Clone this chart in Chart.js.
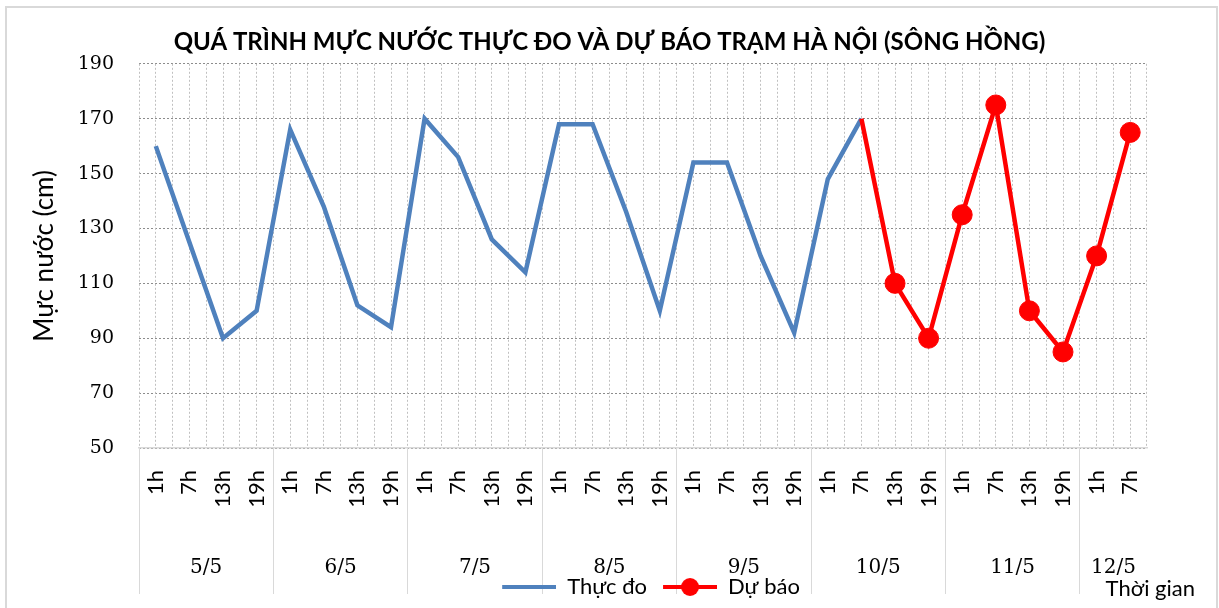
<!DOCTYPE html>
<html>
<head>
<meta charset="utf-8">
<script src="https://cdn.jsdelivr.net/npm/chart.js@4"></script>
<style>
  body { margin: 0; background: #fff; }
  .wrap { position: relative; width: 1219px; height: 608px; overflow: hidden; }
  .frame { position: absolute; left: 5px; top: 6px; width: 1209px; height: 620px; border: 2px solid #d9d9d9; pointer-events: none; }
</style>
</head>
<body>
<div class="wrap">
  <canvas id="chart" width="1219" height="608"></canvas>
  <div class="frame"></div>
</div>
<script>
const days = ["5/5", "6/5", "7/5", "8/5", "9/5", "10/5", "11/5", "12/5"];
const hoursPerDay = [4, 4, 4, 4, 4, 4, 4, 2];
const hourLabels = ["1h", "7h", "13h", "19h"];

// muc nuoc thuc do (cm), 5/5 1h -> 10/5 7h
const observed = [160, 125, 90, 100, 166, 138, 102, 94, 170, 156, 126, 114,
  168, 168, 136, 100, 154, 154, 120, 92, 148, 170];
// du bao (cm), 10/5 13h -> 12/5 7h
const forecast = [110, 90, 135, 175, 100, 85, 120, 165];

const yTicks = [50, 70, 90, 110, 130, 150, 170, 190];

// build category labels + day positions
const labels = [];
const dayStarts = [];
const dayCenters = [];
days.forEach((d, i) => {
  dayStarts.push(labels.length);
  dayCenters.push(labels.length + (hoursPerDay[i] - 1) / 2);
  hourLabels.slice(0, hoursPerDay[i]).forEach((h) => labels.push(h));
});
dayStarts.push(labels.length);

const joint = observed.length - 1;
const forecastData = labels.map((_, i) => {
  if (i < joint) return null;
  if (i === joint) return observed[joint];
  return forecast[i - joint - 1];
});

// legend symbol: 16px blank gap on the left, then line (+ dot)
function legendIcon(color, dot) {
  const c = document.createElement("canvas");
  c.width = 70;
  c.height = 22;
  const g = c.getContext("2d");
  g.strokeStyle = color;
  g.lineWidth = 4;
  g.beginPath();
  g.moveTo(16, 11);
  g.lineTo(70, 11);
  g.stroke();
  if (dot) {
    g.fillStyle = color;
    g.beginPath();
    g.arc(43, 11, 9, 0, Math.PI * 2);
    g.fill();
  }
  return c;
}
const icons = [legendIcon("#4f81bd", false), legendIcon("#ff0000", true)];

const dotted = [2, 2];

new Chart(document.getElementById("chart"), {
  type: "line",
  data: {
    labels: labels,
    datasets: [
      {
        label: "Thực đo",
        data: observed,
        borderColor: "#4f81bd",
        backgroundColor: "#4f81bd",
        borderWidth: 4.5,
        pointRadius: 0,
        tension: 0,
        order: 1,
      },
      {
        label: "Dự báo",
        data: forecastData,
        borderColor: "#ff0000",
        backgroundColor: "#ff0000",
        borderWidth: 4.5,
        pointRadius: (ctx) => (ctx.dataIndex === joint ? 0 : 10),
        pointBorderWidth: 1,
        tension: 0,
        order: 0,
      },
    ],
  },
  options: {
    responsive: false,
    animation: false,
    layout: { padding: { left: 24, right: 24, top: 24, bottom: 0 } },
    plugins: {
      title: {
        display: true,
        text: "QUÁ TRÌNH MỰC NƯỚC THỰC ĐO VÀ DỰ BÁO TRẠM HÀ NỘI (SÔNG HỒNG)",
        color: "#000",
        font: { family: "Lato", size: 24, weight: "bold", lineHeight: 1.2 },
        padding: { top: 4, bottom: 7 },
      },
      subtitle: {
        display: true,
        position: "bottom",
        align: "end",
        text: "Thời gian",
        color: "#000",
        font: { family: "Lato", size: 22, lineHeight: 1 },
        padding: { top: -30, bottom: 5 },
      },
      legend: {
        position: "bottom",
        fullSize: false,
        labels: {
          usePointStyle: true,
          pointStyleWidth: 70,
          padding: 0,
          color: "#000",
          font: { family: "Lato", size: 22 },
          generateLabels: (chart) =>
            chart.data.datasets.map((ds, i) => ({
              text: ds.label,
              pointStyle: icons[i],
              fillStyle: ds.borderColor,
              strokeStyle: ds.borderColor,
              lineWidth: 0,
              hidden: false,
              datasetIndex: i,
              fontColor: "#000",
            })),
        },
      },
      tooltip: { enabled: false },
    },
    scales: {
      y: {
        min: 50,
        max: 190,
        afterBuildTicks: (s) => { s.ticks = yTicks.map((v) => ({ value: v })); },
        afterFit: (s) => { s.width = 115; },
        ticks: { color: "#000", padding: 25, font: { family: "DejaVu Serif", size: 19 } },
        grid: { color: "#8c8c8c", drawTicks: false },
        border: { display: false, dash: dotted },
        title: {
          display: true,
          text: "Mực nước (cm)",
          color: "#000",
          font: { family: "Lato", size: 26 },
          padding: { top: 5, bottom: 0 },
        },
      },
      yR: {
        type: "linear",
        position: "right",
        min: 50,
        max: 190,
        afterFit: (s) => { s.width = 48; },
        ticks: { display: false },
        grid: { display: false, drawTicks: false },
        border: { display: false },
      },
      // boundary gridlines + long day separators below the axis
      xb: {
        type: "category",
        position: "bottom",
        weight: 0,
        offset: true,
        afterFit: (s) => { s.height = 0; },
        ticks: { display: false },
        grid: {
          offset: true,
          color: "#c0c0c0",
          tickLength: 146,
          tickBorderDash: [],
          tickWidth: 1,
          tickColor: (ctx) => (dayStarts.includes(ctx.index) ? "#d9d9d9" : "rgba(0,0,0,0)"),
        },
        border: { display: false, dash: dotted },
      },
      x: {
        type: "category",
        position: "bottom",
        weight: 1,
        offset: true,
        afterFit: (s) => { s.height = 78; },
        ticks: {
          autoSkip: false,
          minRotation: 90,
          maxRotation: 90,
          padding: 22,
          color: "#000",
          font: { family: "Lato", size: 22 },
        },
        grid: { offset: false, color: "#c0c0c0", drawTicks: false },
        border: { display: true, color: "#d9d9d9", width: 1.5, dash: dotted },
      },
      xDay: {
        type: "linear",
        position: "bottom",
        weight: 2,
        min: -0.5,
        max: labels.length - 0.5,
        afterBuildTicks: (s) => { s.ticks = dayCenters.map((v) => ({ value: v })); },
        afterFit: (s) => { s.height = 50; },
        ticks: {
          autoSkip: false,
          maxRotation: 0,
          padding: 30,
          color: "#000",
          font: { family: "DejaVu Serif", size: 20 },
          callback: (v, i) => days[i],
        },
        grid: { display: false, drawTicks: false },
        border: { display: false },
      },
    },
  },
});
</script>
</body>
</html>
